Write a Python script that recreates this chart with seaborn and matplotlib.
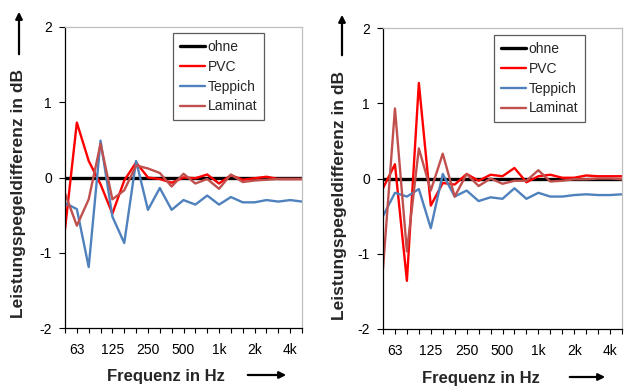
import numpy as np
import pandas as pd
import matplotlib
matplotlib.use("Agg")
import matplotlib.pyplot as plt
import seaborn as sns

# Terzband categories 50 Hz .. 5 kHz
bands = ["50", "63", "80", "100", "125", "160", "200", "250", "315", "400", "500",
         "630", "800", "1k", "1.25k", "1.6k", "2k", "2.5k", "3.15k", "4k", "5k"]
shown_labels = ["63", "125", "250", "500", "1k", "2k", "4k"]

series_names = ["ohne", "PVC", "Teppich", "Laminat"]
colors = {"ohne": "#000000", "PVC": "#FF0000", "Teppich": "#4F81BD", "Laminat": "#C0504D"}

# left chart
left_ohne = [0.0] * 21
left_pvc = [-0.69, 0.73, 0.22, -0.09, -0.48, -0.04, 0.20, 0.00, -0.02, -0.07, 0.00,
            -0.01, 0.04, -0.08, 0.03, -0.03, -0.01, 0.01, -0.02, -0.02, -0.02]
left_teppich = [-0.34, -0.42, -1.19, 0.49, -0.52, -0.87, 0.22, -0.43, -0.14, -0.43, -0.30,
                -0.36, -0.24, -0.36, -0.26, -0.33, -0.33, -0.30, -0.32, -0.30, -0.32]
left_laminat = [-0.21, -0.64, -0.29, 0.45, -0.29, -0.17, 0.16, 0.12, 0.06, -0.12, 0.05,
                -0.08, -0.02, -0.15, 0.04, -0.06, -0.04, -0.03, -0.02, -0.02, -0.02]

# right chart
right_ohne = [0.0] * 21
right_pvc = [-0.13, 0.19, -1.36, 1.27, -0.36, -0.06, -0.08, 0.06, -0.03, 0.05, 0.03,
             0.14, -0.05, 0.03, 0.05, 0.01, 0.01, 0.04, 0.03, 0.03, 0.03]
right_teppich = [-0.50, -0.19, -0.24, -0.14, -0.66, 0.06, -0.24, -0.16, -0.30, -0.25, -0.27,
                 -0.13, -0.27, -0.19, -0.24, -0.24, -0.22, -0.21, -0.22, -0.22, -0.21]
right_laminat = [-1.20, 0.93, -0.97, 0.40, -0.16, 0.33, -0.24, 0.06, -0.10, 0.00, -0.07,
                 -0.03, -0.03, 0.11, -0.04, -0.03, -0.01, -0.01, 0.00, 0.00, -0.01]

y_ticks = [-2, -1, 0, 1, 2]
y_label = "Leistungspegeldifferenz in dB"
x_label = "Frequenz in Hz"

sns.set_style("ticks")
plt.rcParams["font.family"] = ["Liberation Sans", "DejaVu Sans"]
plt.rcParams["axes.unicode_minus"] = False

W, H = 627, 387
fig = plt.figure(figsize=(W / 100, H / 100), dpi=100)


def fx(px):
    return px / W


def fy(py):
    return 1 - py / H


def make_df(ohne, pvc, tep, lam):
    rows = []
    for name, vals in zip(series_names, [ohne, pvc, tep, lam]):
        for i, v in enumerate(vals):
            rows.append({"idx": i, "band": bands[i], "val": v, "series": name})
    return pd.DataFrame(rows)


def draw(rect, df, legend_anchor):
    ax = fig.add_axes(rect)
    sns.lineplot(data=df, x="idx", y="val", hue="series", hue_order=series_names,
                 palette=colors, sort=False, legend=False, ax=ax, linewidth=1.7)
    lines = ax.get_lines()
    lines[0].set_linewidth(2.4)
    ax.set_xlim(0, len(bands) - 1)
    ax.set_ylim(-2, 2)
    ax.set_yticks(y_ticks)
    ax.set_yticklabels([str(t) for t in y_ticks], fontsize=10)
    ax.set_xticks(range(len(bands)))
    ax.set_xticklabels([b if b in shown_labels else "" for b in bands], fontsize=10)
    ax.tick_params(axis="x", length=3.5, width=0.8, pad=7, colors="black")
    ax.tick_params(axis="y", length=4.5, width=0.8, pad=5, colors="black")
    ax.set_xlabel("")
    ax.set_ylabel("")
    for s in ["left", "bottom"]:
        ax.spines[s].set_color("black")
        ax.spines[s].set_linewidth(0.9)
    for s in ["top", "right"]:
        ax.spines[s].set_visible(True)
        ax.spines[s].set_color("#BFBFBF")
        ax.spines[s].set_linewidth(0.9)
    leg = ax.legend(lines[:4], series_names, loc="upper right", bbox_to_anchor=legend_anchor,
                    borderaxespad=0, fontsize=10, frameon=True, fancybox=False,
                    handlelength=1.8, handletextpad=0.2, labelspacing=0.42,
                    borderpad=0.5)
    leg.get_frame().set_edgecolor("#333333")
    leg.get_frame().set_linewidth(0.9)
    return ax


left_rect = [fx(65), fy(328), fx(302) - fx(65), fy(27) - fy(328)]
right_rect = [fx(383), fy(329), fx(622) - fx(383), fy(28) - fy(329)]

draw(left_rect, make_df(left_ohne, left_pvc, left_teppich, left_laminat), (0.84, 0.98))
draw(right_rect, make_df(right_ohne, right_pvc, right_teppich, right_laminat), (0.845, 0.977))

# axis titles and arrows
for (ylx, yly, axx, ay0, ay1, xlx, xly, ax0, ax1, axy) in [
        (18.5, 194, 19, 57, 9, 166, 377, 245, 289, 375),
        (339, 195, 342, 58, 12, 481, 378, 567, 608, 377)]:
    fig.text(fx(ylx), fy(yly), y_label, rotation=90, ha="center", va="center",
             fontsize=12.5, fontweight="bold")
    fig.text(fx(xlx), fy(xly), x_label, ha="center", va="center",
             fontsize=12, fontweight="bold")
    fig.add_artist(matplotlib.patches.FancyArrowPatch(
        (fx(axx), fy(ay0)), (fx(axx), fy(ay1)), transform=fig.transFigure,
        arrowstyle="-|>", mutation_scale=10, lw=1.6, color="black"))
    fig.add_artist(matplotlib.patches.FancyArrowPatch(
        (fx(ax0), fy(axy)), (fx(ax1), fy(axy)), transform=fig.transFigure,
        arrowstyle="-|>", mutation_scale=10, lw=1.6, color="black"))

fig.savefig("out.png", dpi=100)
